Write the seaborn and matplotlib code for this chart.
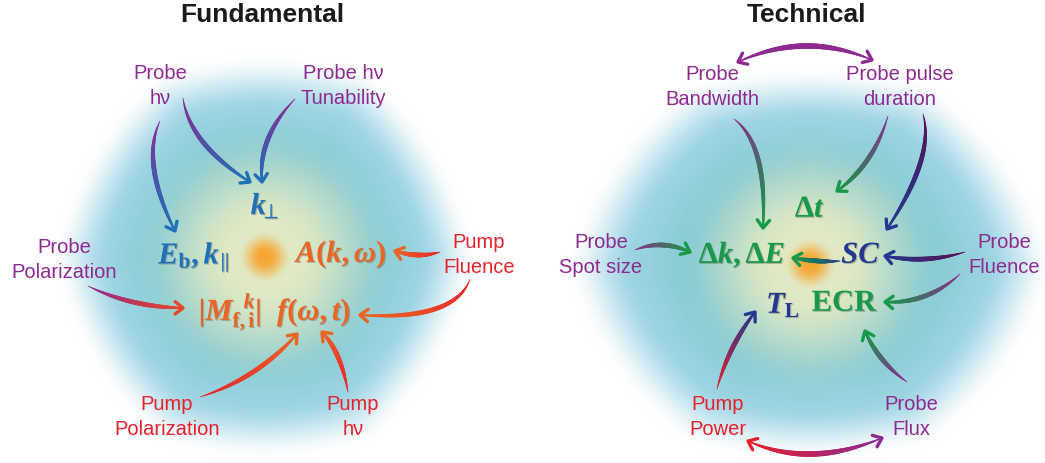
import numpy as np
import matplotlib
matplotlib.use('Agg')
import matplotlib.pyplot as plt
import matplotlib.patheffects as pe
from matplotlib.collections import LineCollection
from matplotlib.colors import to_rgb
import seaborn as sns

W, H = 1045, 464

# ---- content --------------------------------------------------------------
titles = ['Fundamental', 'Technical']

fund_labels = ['Probe\nhν', 'Probe hν\nTunability', 'Probe\nPolarization',
               'Pump\nFluence', 'Pump\nPolarization', 'Pump\nhν']
fund_label_kind = ['probe', 'probe', 'probe', 'pump', 'pump', 'pump']
fund_terms = [r'$k_{\!\!\perp}$', r'$E_{\mathrm{b}}, k_{\!\parallel}$', r'$A(k,\omega)$',
              r'$|M_{\mathrm{f,i}}^{\;\;k}|$', r'$f(\omega,t)$']
fund_term_kind = ['blue', 'blue', 'orange', 'orange', 'orange']
# (label index, term index)
fund_links = [(0, 1), (0, 0), (1, 0), (2, 3), (3, 2), (3, 4), (4, 4), (5, 4)]

tech_labels = ['Probe\nBandwidth', 'Probe pulse\nduration', 'Probe\nSpot size',
               'Probe\nFluence', 'Pump\nPower', 'Probe\nFlux']
tech_label_kind = ['probe', 'probe', 'probe', 'probe', 'pump', 'probe']
tech_terms = [r'$\Delta t$', r'$\Delta k, \Delta E$', r'$SC$',
              r'$T_{\mathrm{L}}$', r'$\mathrm{ECR}$']
tech_term_kind = ['green', 'green', 'navy', 'navy', 'green']
# (source, target, start colour, end colour); 'L' label, 'T' term
tech_links = [('L0', 'L1', 'probe', 'probe'), ('L4', 'L5', 'pump', 'probe'),
              ('L0', 'T1', 'probe', 'green'), ('L1', 'T0', 'probe', 'green'),
              ('L1', 'T2', 'dark', 'navy'), ('L2', 'T1', 'probe', 'green'),
              ('T2', 'T1', 'navy', 'green'), ('L3', 'T2', 'dark', 'navy'),
              ('L3', 'T4', 'probe', 'green'), ('L4', 'T3', 'pump', 'navy'),
              ('L5', 'T4', 'probe', 'green')]

COL = {'probe': '#8d2a90', 'pump': '#e8202a', 'blue': '#1f70b6',
       'orange': '#ea6424', 'green': '#17994a', 'navy': '#25388f',
       'dark': '#5e0c4c', 'red_or': '#e8452a'}

# ---- layout ---------------------------------------------------------------
title_xy = [(262, 15), (806, 15)]
fund_label_xy = [(160, 86), (343, 86), (64, 260), (479, 255), (167, 417), (353, 417)]
fund_term_xy = [(265, 207), (194, 258), (342, 255), (230, 313), (314, 313)]
tech_label_xy = [(712, 87), (900, 87), (601, 255), (1004, 255), (718, 417), (911, 417)]
tech_term_xy = [(810, 210), (742, 256), (861, 256), (783, 306), (845, 304)]

# arrow geometry: start, middle, end (pixels)
fund_paths = [((160, 122), (154, 170), (175, 232)),
              ((183, 99), (203, 143), (250, 183)),
              ((295, 100), (268, 140), (262, 183)),
              ((88, 287), (133, 303), (183, 309)),
              ((440, 253), (418, 256), (395, 252)),
              ((470, 280), (435, 310), (360, 316)),
              ((200, 398), (253, 373), (297, 335)),
              ((348, 393), (338, 358), (322, 333))]
fund_path_cols = [('probe', 'blue'), ('probe', 'blue'), ('probe', 'blue'),
                  ('probe', 'red_or'), ('pump', 'orange'), ('pump', 'orange'),
                  ('pump', 'orange'), ('pump', 'orange')]
tech_paths = [((738, 63), (805, 47), (872, 61)),
              ((748, 442), (812, 455), (882, 439)),
              ((734, 120), (758, 160), (763, 229)),
              ((888, 117), (868, 160), (837, 192)),
              ((923, 115), (920, 165), (887, 230)),
              ((635, 251), (662, 246), (690, 253)),
              ((840, 262), (818, 262), (793, 259)),
              ((965, 253), (925, 260), (885, 257)),
              ((960, 275), (925, 297), (885, 303)),
              ((717, 390), (732, 350), (755, 313)),
              ((907, 383), (882, 360), (865, 332))]


def smoothstep(a, b, x):
    t = np.clip((x - a) / (b - a), 0, 1)
    return t * t * (3 - 2 * t)


def glow(cx, cy, rad, sx):
    yy, xx = np.mgrid[0:H, 0:W] + 0.5
    dx = (xx - cx) / sx
    dy = yy - cy
    hexd = np.maximum.reduce([np.abs(dy), np.abs(0.866 * dx + 0.5 * dy),
                              np.abs(0.866 * dx - 0.5 * dy)]) / rad
    d = 0.4 * hexd + 0.6 * np.hypot(dx, dy) / rad
    r = np.hypot(xx - cx, yy - cy)
    teal, sky = np.array(to_rgb('#88cbd3')), np.array(to_rgb('#a4d7e7'))
    k = smoothstep(0.5, 0.95, d)[..., None]
    rgb = teal * (1 - k) + sky * k
    a = (1 - smoothstep(0.8, 1.1, d))[..., None]
    rgb = 1.0 * (1 - a) + rgb * a
    ay = (1 - smoothstep(30, 135, r))[..., None] * 0.95
    rgb = rgb * (1 - ay) + np.array(to_rgb('#e5ebc3')) * ay
    ao = (1 - smoothstep(4, 27, r))[..., None]
    rgb = rgb * (1 - ao) + np.array(to_rgb('#f6a733')) * ao
    return rgb


def brush(ax, p0, pm, p2, c0, c1, wmax=3.4, double=False, n=80):
    p0, pm, p2 = (np.array(p, float) for p in (p0, pm, p2))
    ctrl = 2 * pm - 0.5 * (p0 + p2)
    t = np.linspace(0, 1, n)[:, None]
    pts = (1 - t) ** 2 * p0 + 2 * (1 - t) * t * ctrl + t ** 2 * p2
    segs = np.stack([pts[:-1], pts[1:]], axis=1)
    tm = 0.5 * (t[:-1, 0] + t[1:, 0])
    if double:
        w = wmax * (0.2 + 0.8 * np.sin(np.pi * tm))
    else:
        w = wmax * (0.12 + 0.88 * np.sin(np.pi * 0.9 * tm))
    cols = sns.blend_palette([c0, c1], n - 1)
    ax.add_collection(LineCollection(segs, linewidths=w, colors=cols,
                                     capstyle='round', zorder=3))
    heads = [(p2, ctrl, c1)] + ([(p0, ctrl, c0)] if double else [])
    for tip, back, c in heads:
        u = (tip - back) / np.linalg.norm(tip - back)
        wings = []
        for ang in (np.radians(38), -np.radians(38)):
            rot = np.array([[np.cos(ang), -np.sin(ang)], [np.sin(ang), np.cos(ang)]])
            wings.append(tip - 10 * rot @ u)
        ax.plot([wings[0][0], tip[0], wings[1][0]], [wings[0][1], tip[1], wings[1][1]],
                color=c, lw=2.4, solid_capstyle='round', solid_joinstyle='round', zorder=4)


sns.set_theme(style='white')
plt.rcParams['font.family'] = ['Liberation Sans', 'DejaVu Sans']
plt.rcParams['mathtext.fontset'] = 'custom'
plt.rcParams['mathtext.rm'] = 'Liberation Serif:bold'
plt.rcParams['mathtext.it'] = 'Liberation Serif:italic:bold'
plt.rcParams['mathtext.bf'] = 'Liberation Serif:bold'

fig = plt.figure(figsize=(W / 100, H / 100), dpi=100)
ax = fig.add_axes([0, 0, 1, 1])
ax.set_xlim(0, W)
ax.set_ylim(H, 0)
ax.axis('off')

bg = np.minimum(glow(265, 258, 185, 1.0), glow(810, 265, 180, 1.18))
ax.imshow(np.clip(bg, 0, 1), extent=(0, W, H, 0), interpolation='bilinear', zorder=0)

for txt, (x, y) in zip(titles, title_xy):
    ax.text(x, y, txt, ha='center', va='center', fontsize=19, fontweight='bold',
            color='#1a1a1a', zorder=5)

shadow = [pe.withSimplePatchShadow(offset=(0.8, -0.8), shadow_rgbFace='#555555', alpha=0.35)]
for labels, kinds, xys in [(fund_labels, fund_label_kind, fund_label_xy),
                           (tech_labels, tech_label_kind, tech_label_xy)]:
    for txt, kind, (x, y) in zip(labels, kinds, xys):
        ax.text(x, y, txt, ha='center', va='center', fontsize=14.5, color=COL[kind],
                linespacing=1.35, zorder=5)
for terms, kinds, xys in [(fund_terms, fund_term_kind, fund_term_xy),
                          (tech_terms, tech_term_kind, tech_term_xy)]:
    for txt, kind, (x, y) in zip(terms, kinds, xys):
        ax.text(x, y, txt, ha='center', va='center', fontsize=22, color=COL[kind],
                path_effects=shadow, zorder=5)

for (i, j), (p0, pm, p2), (c0, c1) in zip(fund_links, fund_paths, fund_path_cols):
    brush(ax, p0, pm, p2, COL[c0], COL[c1])
for k, ((src, dst, c0, c1), (p0, pm, p2)) in enumerate(zip(tech_links, tech_paths)):
    brush(ax, p0, pm, p2, COL[c0], COL[c1], wmax=4.0 if k < 2 else 3.4, double=k < 2)

fig.savefig('out.png', dpi=100)
